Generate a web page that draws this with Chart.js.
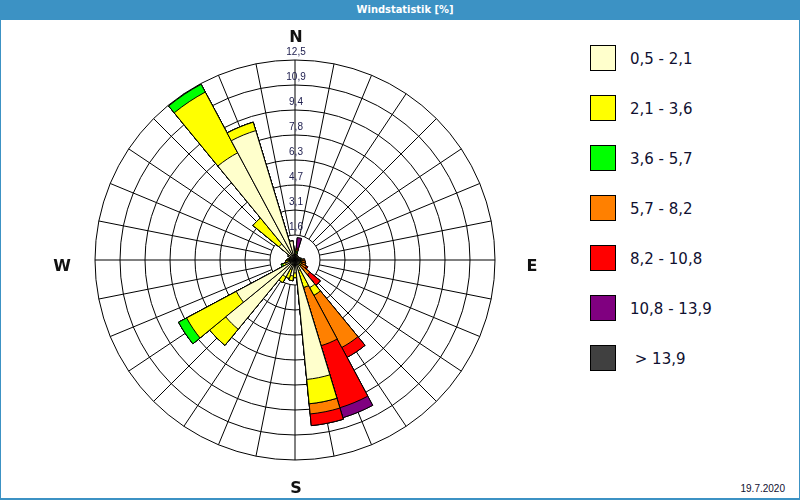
<!DOCTYPE html>
<html>
<head>
<meta charset="utf-8">
<script src="https://cdn.jsdelivr.net/npm/chart.js@4.4.1/dist/chart.umd.min.js"></script>
<style>
    body { margin: 0; width: 800px; height: 500px; overflow: hidden; background: #fff; font-family: "DejaVu Sans", sans-serif; }
    #header { position: absolute; left: 0; top: 0; width: 800px; height: 20px; background: #3c92c4; color: #fff;
              font: bold 11px "DejaVu Sans Condensed", "Liberation Sans", sans-serif; line-height: 20px; }
    #header span { position: absolute; left: 405px; transform: translateX(-50%); white-space: nowrap; }
    .edge { position: absolute; background: #3c92c4; }
    #chart-wrap { position: absolute; left: 45px; top: 20px; width: 500px; height: 480px; }
    #legend { position: absolute; left: 590px; top: 45px; }
    .item { position: relative; height: 50px; }
    .box { position: absolute; left: 0; top: 0; width: 24px; height: 24px; border: 1px solid #000; }
    .txt { position: absolute; left: 40px; top: 5px; font-size: 15px; color: #101030; white-space: pre; }
    #date { position: absolute; right: 15px; top: 483px; font: 10px "Liberation Sans", sans-serif; color: #101030; }
</style>
</head>
<body>
<div id="header"><span>Windstatistik [%]</span></div>
<div class="edge" style="left:0;top:20px;width:1px;height:480px"></div>
<div class="edge" style="left:799px;top:20px;width:1px;height:480px"></div>
<div class="edge" style="left:0;top:498px;width:800px;height:2px"></div>
<div id="chart-wrap"><canvas id="chart-rose" width="500" height="480"></canvas></div>
<div id="legend"></div>
<div id="date">19.7.2020</div>
<script>
// 32 directions, clockwise from N
const directions = ['N', 'NzO', 'NNO', 'NOzN', 'NO', 'NOzO', 'ONO', 'OzN', 'O', 'OzS', 'OSO', 'SOzO', 'SO', 'SOzS', 'SSO', 'SzO',
                    'S', 'SzW', 'SSW', 'SWzS', 'SW', 'SWzW', 'WSW', 'WzS', 'W', 'WzN', 'WNW', 'NWzW', 'NW', 'NWzN', 'NNW', 'NzW'];

const classLabels = ['0,5 - 2,1', '2,1 - 3,6', '3,6 - 5,7', '5,7 - 8,2', '8,2 - 10,8', '10,8 - 13,9', ' > 13,9'];
const classColors = ['#FFFFCC', '#FFFF00', '#00FF00', '#FF8000', '#FF0000', '#800080', '#404040'];

// share [%] of each speed class per direction
const class1 = [0.4, 0.3, 0.3, 0.3, 0.3, 0.3, 0.3, 0.3, 0.3, 0.3, 0.3, 0.3, 0.3, 1.95, 0.7, 7.5,
                0.8, 1.0, 0.6, 1.2, 5.6, 4.16, 0.6, 0.4, 0.3, 0.3, 0.3, 0.5, 1.3, 7.6, 8.45, 1.2];
const class2 = [0.1, 0.15, 0, 0, 0, 0, 0, 0.1, 0.1, 0.1, 0.1, 0.15, 0.2, 0.55, 1.1, 1.53,
                0.3, 0.3, 0.6, 0.4, 1.3, 3.52, 0.2, 0.2, 0.2, 0.1, 0, 0, 2.1, 4.3, 0.55, 0];
const class3 = [0, 0.1, 0, 0, 0, 0, 0, 0, 0, 0, 0, 0, 0, 0, 0, 0,
                0, 0, 0, 0, 0, 0.57, 0.1, 0, 0, 0, 0, 0, 0, 0.55, 0, 0];
const class4 = [0, 0.1, 0, 0, 0, 0, 0, 0, 0.2, 0.25, 0.3, 0.35, 0.7, 3.7, 3.8, 0.64,
                0, 0, 0, 0, 0, 0, 0, 0, 0, 0, 0, 0, 0, 0, 0, 0];
const class5 = [0, 0.1, 0, 0, 0, 0, 0, 0, 0, 0, 0, 0.1, 0.85, 0.7, 4.05, 0.73,
                0, 0, 0, 0, 0, 0, 0, 0, 0, 0, 0, 0, 0, 0, 0, 0];
const class6 = [0, 0.65, 0, 0, 0, 0, 0, 0, 0, 0, 0, 0, 0, 0, 0.65, 0,
                0, 0, 0, 0, 0, 0, 0, 0, 0, 0, 0, 0, 0, 0, 0, 0];
const class7 = [0, 0, 0, 0, 0, 0, 0, 0, 0, 0, 0, 0, 0, 0, 0, 0,
                0, 0, 0, 0, 0, 0, 0, 0, 0, 0, 0, 0, 0, 0, 0, 0];

const tickStep = 1.5625;
const tickMax = 12.5;
const cardinals = ['N', 'E', 'S', 'W'];

// legend
const legendEl = document.getElementById('legend');
classLabels.forEach((label, k) => {
    const item = document.createElement('div');
    item.className = 'item';
    item.innerHTML = `<div class="box" style="background:${classColors[k]}"></div><div class="txt">${label.replace('>', '&gt;')}</div>`;
    legendEl.appendChild(item);
});

// stacked rose: every dataset holds the running total, first class drawn on top
const classes = [class1, class2, class3, class4, class5, class6, class7];
let running = directions.map(() => 0);
const datasets = classes.map((values, k) => {
    running = running.map((v, i) => v + values[i]);
    return {
        label: classLabels[k],
        data: running.slice(),
        backgroundColor: classColors[k],
        borderColor: '#000',
        borderWidth: 1
    };
});

const sectorDeg = 360 / directions.length;

const roseDecor = {
    id: 'roseDecor',
    beforeDatasetsDraw(chart) {
        // spokes through the sector centres, starting at the first ring
        const r = chart.scales.r;
        const ctx = chart.ctx;
        const r0 = r.getDistanceFromCenterForValue(tickStep);
        const r1 = r.getDistanceFromCenterForValue(tickMax);
        ctx.save();
        ctx.strokeStyle = '#000';
        ctx.lineWidth = 1;
        ctx.beginPath();
        for (let k = 0; k < directions.length; k++) {
            const a = (k * sectorDeg) * Math.PI / 180 - Math.PI / 2;
            ctx.moveTo(r.xCenter + r0 * Math.cos(a), r.yCenter + r0 * Math.sin(a));
            ctx.lineTo(r.xCenter + r1 * Math.cos(a), r.yCenter + r1 * Math.sin(a));
        }
        ctx.stroke();
        ctx.restore();
    },
    afterDatasetsDraw(chart) {
        const r = chart.scales.r;
        const ctx = chart.ctx;
        ctx.save();
        // tick labels along the north spoke, just outside each ring
        ctx.font = '10px "Liberation Sans", sans-serif';
        ctx.fillStyle = '#202050';
        ctx.textAlign = 'center';
        ctx.textBaseline = 'middle';
        r.ticks.forEach(t => {
            if (t.value <= 0) return;
            const d = r.getDistanceFromCenterForValue(t.value);
            ctx.fillText(t.value.toFixed(1).replace('.', ','), r.xCenter + 1, r.yCenter - d - 8);
        });
        // compass letters
        ctx.font = 'bold 16px "DejaVu Sans", sans-serif';
        ctx.fillStyle = '#111';
        const rOut = r.getDistanceFromCenterForValue(tickMax);
        const gaps = [23, 36, 28, 34];
        cardinals.forEach((c, k) => {
            const a = k * Math.PI / 2 - Math.PI / 2;
            const d = rOut + gaps[k];
            ctx.fillText(c, r.xCenter + 1 + d * Math.cos(a), r.yCenter + 6 * Math.abs(Math.cos(a)) + d * Math.sin(a) + 1);
        });
        ctx.restore();
    }
};

const ctx = document.getElementById('chart-rose').getContext('2d');
const chartRose = new Chart(ctx, {
    type: 'polarArea',
    data: {
        labels: directions,
        datasets: datasets
    },
    options: {
        responsive: false,
        animation: false,
        events: [],
        layout: { padding: { left: 50, right: 50, top: 40, bottom: 40 } },
        plugins: {
            legend: { display: false },
            tooltip: { enabled: false }
        },
        scales: {
            r: {
                min: 0,
                max: tickMax,
                startAngle: -sectorDeg / 2,
                ticks: { display: false, stepSize: tickStep },
                grid: { color: '#000', lineWidth: 1 },
                angleLines: { display: false },
                pointLabels: { display: false }
            }
        }
    },
    plugins: [roseDecor]
});
</script>
</body>
</html>
